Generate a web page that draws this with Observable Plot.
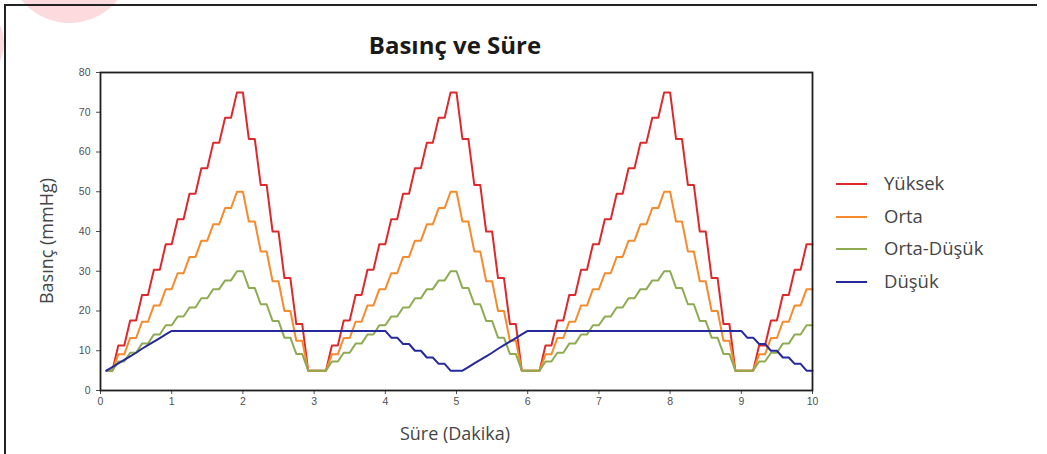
<!DOCTYPE html>
<html>
<head>
<meta charset="utf-8">
<script src="https://cdn.jsdelivr.net/npm/d3@7"></script>
<script src="https://cdn.jsdelivr.net/npm/@observablehq/plot@0.6"></script>
<style>
  html, body { margin: 0; padding: 0; background: #fff; }
  #wrap { position: relative; width: 1047px; height: 454px; overflow: hidden; background: #fff; }
  .blob { position: absolute; border-radius: 50%; background: #fcdadd; }
  .hline { position: absolute; background: #222; }
  #chart { position: absolute; left: 0; top: 0; }
  .txt { position: absolute; font-family: "Open Sans", "Noto Sans", sans-serif; color: #454545; white-space: nowrap; }
  #title { left: 0; width: 910px; top: 28px; text-align: center; font-size: 24px; font-weight: 700; color: #1a1a1a; }
  #xlabel { left: 0; width: 910px; top: 421px; text-align: center; font-size: 18px; }
  #ylabel { left: 46px; top: 241px; font-size: 18px; transform: translate(-50%, -50%) rotate(-90deg); }
  .leg { position: absolute; left: 836px; height: 0; }
  .leg .sw { position: absolute; left: 0; top: -1px; width: 31px; height: 2px; }
  .leg .lt { position: absolute; left: 48px; top: -14px; font-family: "Open Sans", "Noto Sans", sans-serif; font-size: 18.5px; color: #454545; white-space: nowrap; line-height: 26px; }
</style>
</head>
<body>
<div id="wrap">
  <div class="blob" style="left:8px; top:-100px; width:123px; height:123px;"></div>
  <div class="blob" style="left:-82px; top:0px; width:86px; height:86px;"></div>
  <div class="hline" style="left:5px; top:4px; width:1032px; height:2px;"></div>
  <div class="hline" style="left:4px; top:4px; width:2px; height:460px;"></div>
  <div id="chart"></div>
  <div id="title" class="txt">Basınç ve Süre</div>
  <div id="xlabel" class="txt">Süre (Dakika)</div>
  <div id="ylabel" class="txt">Basınç (mmHg)</div>
  <div id="legend"></div>
</div>
<script>
// Sample times in seconds (one reading every 5 s)
const seconds = [
  5,10,15,20,25,30,35,40,45,50,55,60,
  65,70,75,80,85,90,95,100,105,110,115,120,
  125,130,135,140,145,150,155,160,165,170,175,180,
  185,190,195,200,205,210,215,220,225,230,235,240,
  245,250,255,260,265,270,275,280,285,290,295,300,
  305,310,315,320,325,330,335,340,345,350,355,360,
  365,370,375,380,385,390,395,400,405,410,415,420,
  425,430,435,440,445,450,455,460,465,470,475,480,
  485,490,495,500,505,510,515,520,525,530,535,540,
  545,550,555,560,565,570,575,580,585,590,595,600
];

const yuksek = [
  5,5,11.3,11.3,17.6,17.6,24,24,30.4,30.4,36.8,36.8,
  43.1,43.1,49.5,49.5,55.9,55.9,62.3,62.3,68.6,68.6,75,75,
  63.3,63.3,51.7,51.7,40,40,28.3,28.3,16.7,16.7,5,5,
  5,5,11.3,11.3,17.6,17.6,24,24,30.4,30.4,36.8,36.8,
  43.1,43.1,49.5,49.5,55.9,55.9,62.3,62.3,68.6,68.6,75,75,
  63.3,63.3,51.7,51.7,40,40,28.3,28.3,16.7,16.7,5,5,
  5,5,11.3,11.3,17.6,17.6,24,24,30.4,30.4,36.8,36.8,
  43.1,43.1,49.5,49.5,55.9,55.9,62.3,62.3,68.6,68.6,75,75,
  63.3,63.3,51.7,51.7,40,40,28.3,28.3,16.7,16.7,5,5,
  5,5,11.3,11.3,17.6,17.6,24,24,30.4,30.4,36.8,36.8
];

const orta = [
  5,5,9.1,9.1,13.2,13.2,17.3,17.3,21.4,21.4,25.5,25.5,
  29.5,29.5,33.6,33.6,37.7,37.7,41.8,41.8,45.9,45.9,50,50,
  42.5,42.5,35,35,27.5,27.5,20,20,12.5,12.5,5,5,
  5,5,9.1,9.1,13.2,13.2,17.3,17.3,21.4,21.4,25.5,25.5,
  29.5,29.5,33.6,33.6,37.7,37.7,41.8,41.8,45.9,45.9,50,50,
  42.5,42.5,35,35,27.5,27.5,20,20,12.5,12.5,5,5,
  5,5,9.1,9.1,13.2,13.2,17.3,17.3,21.4,21.4,25.5,25.5,
  29.5,29.5,33.6,33.6,37.7,37.7,41.8,41.8,45.9,45.9,50,50,
  42.5,42.5,35,35,27.5,27.5,20,20,12.5,12.5,5,5,
  5,5,9.1,9.1,13.2,13.2,17.3,17.3,21.4,21.4,25.5,25.5
];

const ortaDusuk = [
  5,5,7.3,7.3,9.5,9.5,11.8,11.8,14.1,14.1,16.4,16.4,
  18.6,18.6,20.9,20.9,23.2,23.2,25.5,25.5,27.7,27.7,30,30,
  25.8,25.8,21.7,21.7,17.5,17.5,13.3,13.3,9.2,9.2,5,5,
  5,5,7.3,7.3,9.5,9.5,11.8,11.8,14.1,14.1,16.4,16.4,
  18.6,18.6,20.9,20.9,23.2,23.2,25.5,25.5,27.7,27.7,30,30,
  25.8,25.8,21.7,21.7,17.5,17.5,13.3,13.3,9.2,9.2,5,5,
  5,5,7.3,7.3,9.5,9.5,11.8,11.8,14.1,14.1,16.4,16.4,
  18.6,18.6,20.9,20.9,23.2,23.2,25.5,25.5,27.7,27.7,30,30,
  25.8,25.8,21.7,21.7,17.5,17.5,13.3,13.3,9.2,9.2,5,5,
  5,5,7.3,7.3,9.5,9.5,11.8,11.8,14.1,14.1,16.4,16.4
];

const dusuk = [
  5,5.9,6.8,7.7,8.6,9.5,10.5,11.4,12.3,13.2,14.1,15,
  15,15,15,15,15,15,15,15,15,15,15,15,
  15,15,15,15,15,15,15,15,15,15,15,15,
  15,15,15,15,15,15,15,15,15,15,15,15,
  13.3,13.3,11.7,11.7,10,10,8.3,8.3,6.7,6.7,5,5,
  5,5.9,6.8,7.7,8.6,9.5,10.5,11.4,12.3,13.2,14.1,15,
  15,15,15,15,15,15,15,15,15,15,15,15,
  15,15,15,15,15,15,15,15,15,15,15,15,
  15,15,15,15,15,15,15,15,15,15,15,15,
  13.3,13.3,11.7,11.7,10,10,8.3,8.3,6.7,6.7,5,5
];

const seriesNames = ["Yüksek", "Orta", "Orta-Düşük", "Düşük"];
const seriesValues = [yuksek, orta, ortaDusuk, dusuk];
const seriesColors = ["#dc2a2c", "#f68a2c", "#8fab52", "#252a9a"];
const xTicks = [0,1,2,3,4,5,6,7,8,9,10];
const yTicks = [0,10,20,30,40,50,60,70,80];

const rows = [];
seriesNames.forEach((name, s) => {
  seriesValues[s].forEach((v, i) => rows.push({series: name, t: seconds[i] / 60, v}));
});

const chart = Plot.plot({
  width: 1047,
  height: 454,
  marginLeft: 100,
  marginRight: 235,
  marginTop: 72,
  marginBottom: 64,
  style: {fontFamily: "'Liberation Sans', Arial, sans-serif", fontSize: "10.5px", color: "#505050", background: "transparent"},
  x: {domain: [0, 10]},
  y: {domain: [0, 80]},
  color: {domain: seriesNames, range: seriesColors},
  marks: [
    Plot.axisX({ticks: xTicks, tickSize: 4, tickPadding: 3, label: null, tickFormat: d => String(d)}),
    Plot.axisY({ticks: yTicks, tickSize: 4, tickPadding: 6, label: null, tickFormat: d => String(d)}),
    Plot.line(rows, {x: "t", y: "v", z: "series", stroke: "series", strokeWidth: 2, curve: "linear"}),
    Plot.frame({stroke: "#1e1e1e", strokeWidth: 1.8})
  ]
});
document.getElementById("chart").appendChild(chart);

// Legend
const legendY = [184, 216.5, 249, 282];
const legend = document.getElementById("legend");
seriesNames.forEach((name, i) => {
  const item = document.createElement("div");
  item.className = "leg";
  item.style.top = legendY[i] + "px";
  item.innerHTML = `<div class="sw" style="background:${seriesColors[i]}"></div><div class="lt">${name}</div>`;
  legend.appendChild(item);
});
</script>
</body>
</html>
